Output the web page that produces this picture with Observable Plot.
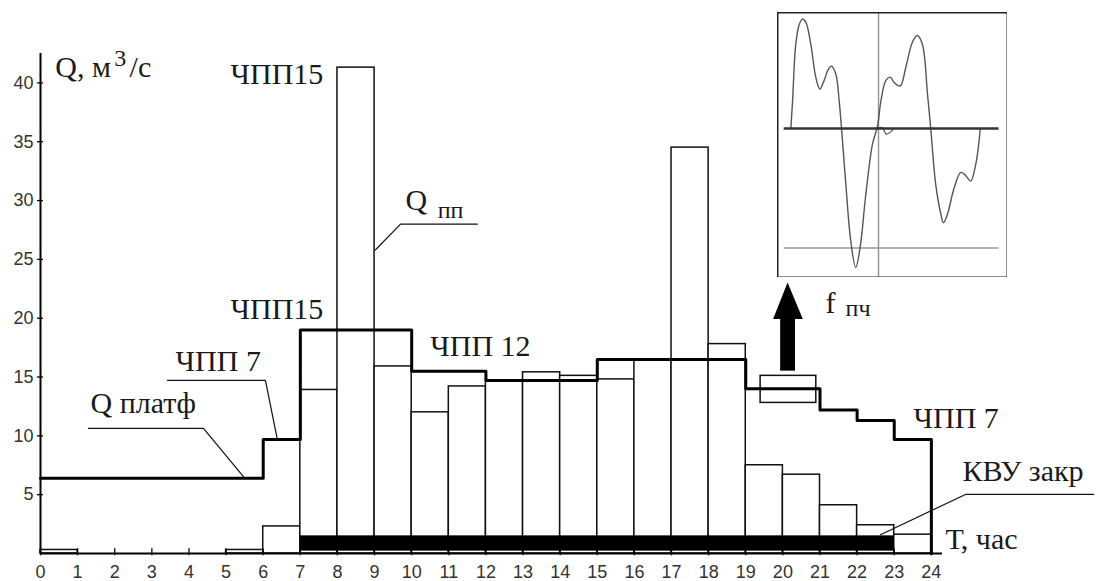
<!DOCTYPE html>
<html><head><meta charset="utf-8">
<script src="https://cdn.jsdelivr.net/npm/d3@7"></script>
<script src="https://cdn.jsdelivr.net/npm/@observablehq/plot@0.6"></script>
<style>
body{margin:0;background:#fff;}
#wrap{position:relative;width:1099px;height:581px;overflow:hidden;background:#fff;}
#main{position:absolute;left:0;top:0;}
#inset{position:absolute;left:777px;top:12px;}
</style></head><body><div id="wrap"><div id="main"></div><div id="inset"></div></div>
<script>
// ---- data ----
const hourStart = d3.range(24);
const qpp = [0.3, 0, 0, 0, 0, 0.3, 2.3, 13.9, 41.3, 15.9, 12.0, 14.2, 14.6, 15.4, 15.1, 14.8, 16.4, 34.5, 17.8, 7.5, 6.7, 4.1, 2.4, 1.6];
const platfX = [0, 6, 7, 10, 12, 15, 19, 21, 22, 23, 24];
const platfY = [6.4, 9.7, 19.0, 15.5, 14.7, 16.5, 14.0, 12.2, 11.3, 9.7, 0];
const kvu = {x1: 7, x2: 23, y1: 0.2, y2: 1.5};
const fBox = {x1: 19.4, x2: 20.9, y1: 12.8, y2: 15.1};
const xTicks = d3.range(25);
const yTicks = [5, 10, 15, 20, 25, 30, 35, 40];
// arrow (data coordinates)
const arrowShaft = {x1: 19.94, x2: 20.34, y1: 15.5, y2: 20.0};
const arrowHeadX = [19.75, 20.14, 20.55];
const arrowHeadBase = 19.9;
const arrowHeadTip = [19.9, 23.0, 19.9];
// leader lines
const leaders = [
  {id: "platf", x: 1.29, y: 10.64}, {id: "platf", x: 4.39, y: 10.64}, {id: "platf", x: 5.5, y: 6.4},
  {id: "chpp7", x: 3.42, y: 14.72}, {id: "chpp7", x: 6.06, y: 14.72}, {id: "chpp7", x: 6.38, y: 9.7},
  {id: "qpp", x: 11.77, y: 28.0}, {id: "qpp", x: 9.7, y: 28.0}, {id: "qpp", x: 9.02, y: 25.8},
  {id: "kvu", x: 28.37, y: 5.02}, {id: "kvu", x: 24.92, y: 5.02}, {id: "kvu", x: 22.63, y: 1.6}
];
// labels
const labelsStart = [
  {t: "Q, м", x: 0.40, y: 41.3, s: 30},
  {t: "3", x: 1.99, y: 42.1, s: 24},
  {t: "/с", x: 2.4, y: 41.3, s: 30},
  {t: "ЧПП 7", x: 3.64, y: 16.3, s: 30},
  {t: "Q платф", x: 1.35, y: 12.73, s: 30},
  {t: "ЧПП 12", x: 10.5, y: 17.58, s: 30},
  {t: "ЧПП 7", x: 23.52, y: 11.45, s: 30},
  {t: "КВУ закр", x: 24.84, y: 6.94, s: 30},
  {t: "Т, час", x: 24.38, y: 1.16, s: 30},
  {t: "Q", x: 9.83, y: 30.0, s: 30},
  {t: "пп", x: 10.7, y: 29.16, s: 24},
  {t: "f", x: 21.15, y: 21.24, s: 30},
  {t: "пч", x: 21.69, y: 20.83, s: 24}
];
const labelsEnd = [
  {t: "ЧПП15", x: 7.62, y: 40.73, s: 30},
  {t: "ЧПП15", x: 7.62, y: 20.73, s: 30}
];
// inset waveform (relative time 0..100, relative amplitude)
const waveT = [3.1, 3.9, 5.4, 7.0, 8.5, 10.1, 12.4, 14.7, 16.6, 18.6, 20.5, 22.0, 24.0, 25.6, 26.7, 28.7, 31.0, 33.3, 35.3, 38.0, 41.1, 43.4, 45.0, 47.3, 49.3, 51.2, 54.0, 56.6, 59.7, 62.0, 64.3, 66.7, 68.2, 70.5, 72.9, 74.1, 76.0, 79.1, 82.2, 84.5, 86.8, 89.1, 90.7, 91.2];
const waveA = [0, 0.25, 0.77, 0.95, 1.0, 0.97, 0.77, 0.47, 0.36, 0.44, 0.54, 0.57, 0.50, 0.25, 0, -0.51, -1.03, -1.27, -1.09, -0.6, -0.14, 0.02, 0.25, 0.44, 0.47, 0.42, 0.39, 0.56, 0.79, 0.85, 0.77, 0.31, 0, -0.51, -0.78, -0.86, -0.78, -0.54, -0.40, -0.43, -0.48, -0.33, -0.11, 0];
const wiggleT = [43.5, 45.5, 47.5, 49.5, 51.0];
const wiggleA = [0.0, 0.01, -0.05, -0.03, 0.0];
const insetVLine = 43.9;
const insetLowLine = -1.09;

// ---- build ----
const bars = hourStart.map((h, i) => ({x1: h, x2: h + 1, q: qpp[i]})).filter(d => d.q > 0);
const platf = platfX.map((x, i) => ({x, y: platfY[i]}));
const head = arrowHeadX.map((x, i) => ({x, y1: arrowHeadBase, y2: arrowHeadTip[i]}));
const serif = "'Liberation Serif', 'Times New Roman', serif";
const sans = "'Liberation Sans', Arial, sans-serif";

const main = Plot.plot({
  width: 1099, height: 581,
  marginLeft: 40, marginRight: 157, marginTop: 53, marginBottom: 28,
  x: {domain: [0, 24.3]},
  y: {domain: [0, 42.5]},
  style: {background: "white", overflow: "visible"},
  marks: [
    Plot.rect(bars, {x1: "x1", x2: "x2", y1: 0, y2: "q", fill: "white", stroke: "#111", strokeWidth: 1.5}),
    Plot.rect([kvu], {x1: "x1", x2: "x2", y1: "y1", y2: "y2", fill: "black"}),
    Plot.rect([fBox], {x1: "x1", x2: "x2", y1: "y1", y2: "y2", fill: "none", stroke: "#111", strokeWidth: 1.5}),
    Plot.line(platf, {x: "x", y: "y", curve: "step-after", stroke: "#000", strokeWidth: 3}),
    Plot.rect([arrowShaft], {x1: "x1", x2: "x2", y1: "y1", y2: "y2", fill: "black"}),
    Plot.areaY(head, {x: "x", y1: "y1", y2: "y2", fill: "black", curve: "linear"}),
    Plot.line(leaders, {x: "x", y: "y", z: "id", stroke: "#111", strokeWidth: 1.2}),
    Plot.ruleX([0], {stroke: "#000", strokeWidth: 2}),
    Plot.ruleY([0], {stroke: "#000", strokeWidth: 2}),
    Plot.ruleX(xTicks, {x: d => d, y1: -0.2, y2: 0.4, stroke: "#000", strokeWidth: 1.3}),
    Plot.ruleY(yTicks, {y: d => d, x1: -0.08, x2: 0.08, stroke: "#000", strokeWidth: 1.3}),
    Plot.axisX({ticks: xTicks, tickSize: 0, tickPadding: 12, fill: "#333", tickFormat: d => d}),
    Plot.axisY({ticks: yTicks, tickSize: 0, tickPadding: 7, fill: "#333", tickFormat: d => d}),
    Plot.text(labelsStart, {x: "x", y: "y", text: "t", fontSize: "s", textAnchor: "start", lineAnchor: "middle", fill: "#1a1a1a"}),
    Plot.text(labelsEnd, {x: "x", y: "y", text: "t", fontSize: "s", textAnchor: "end", lineAnchor: "middle", fill: "#1a1a1a"})
  ]
});
// fonts: annotation labels in serif, tick labels in sans
main.querySelectorAll('g[aria-label="text"] text').forEach(t => { t.style.fontFamily = serif; });
main.querySelectorAll('g[aria-label$="tick label"] text').forEach(t => { t.style.fontFamily = sans; t.style.fontSize = "18px"; });
document.getElementById("main").appendChild(main);

const wave = waveT.map((t, i) => ({t, a: waveA[i]}));
const wiggle = wiggleT.map((t, i) => ({t, a: wiggleA[i]}));
const inset = Plot.plot({
  width: 230, height: 265, margin: 0,
  x: {domain: [-3.1, 103.9], axis: null},
  y: {domain: [-1.36, 1.06], axis: null},
  style: {background: "white"},
  marks: [
    Plot.ruleX([insetVLine], {stroke: "#999", strokeWidth: 1.5}),
    Plot.ruleY([insetLowLine], {x1: 0, x2: 100, stroke: "#999", strokeWidth: 1.5}),
    Plot.line(wave, {x: "t", y: "a", curve: "catmull-rom", stroke: "#555", strokeWidth: 1.4}),
    Plot.line(wiggle, {x: "t", y: "a", curve: "catmull-rom", stroke: "#555", strokeWidth: 1.2}),
    Plot.ruleY([0], {x1: 0, x2: 100, stroke: "#333", strokeWidth: 2.5}),
    Plot.frame({stroke: "#222", strokeWidth: 2})
  ]
});
document.getElementById("inset").appendChild(inset);
</script></body></html>
